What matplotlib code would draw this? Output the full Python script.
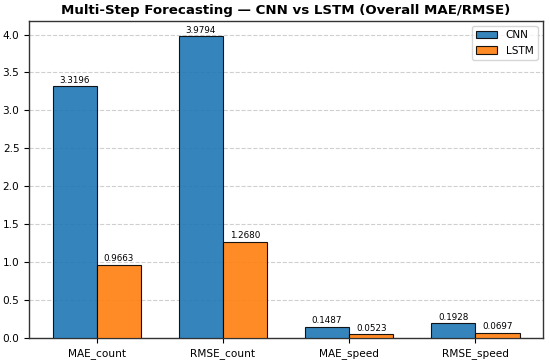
import matplotlib
matplotlib.use("Agg")
import matplotlib.pyplot as plt
import numpy as np

metrics = ["MAE_count", "RMSE_count", "MAE_speed", "RMSE_speed"]
cnn_vals = [3.3196, 3.9794, 0.1487, 0.1928]
lstm_vals = [0.9663, 1.2680, 0.0523, 0.0697]

fig, ax = plt.subplots(figsize=(5.5, 3.62), dpi=100)
x = np.arange(len(metrics))
w = 0.35
b1 = ax.bar(x - w/2, cnn_vals, w, label="CNN", color="tab:blue", alpha=0.9, edgecolor="black", linewidth=0.8, zorder=3)
b2 = ax.bar(x + w/2, lstm_vals, w, label="LSTM", color="tab:orange", alpha=0.9, edgecolor="black", linewidth=0.8, zorder=3)
for bars, vals in ((b1, cnn_vals), (b2, lstm_vals)):
    ax.bar_label(bars, labels=[f"{v:.4f}" for v in vals], fontsize=6.3, padding=1)
ax.set_xticks(x)
ax.set_xticklabels(metrics, fontsize=7.6)
ax.tick_params(axis="y", labelsize=7.6)
for s in ax.spines.values():
    s.set_linewidth(1.0)
    s.set_color("0.2")
ax.set_title("Multi-Step Forecasting — CNN vs LSTM (Overall MAE/RMSE)", fontsize=9.6, fontweight="bold", pad=5)
ax.grid(axis="y", linestyle="--", alpha=0.6, zorder=0)
ax.legend(fontsize=7.6)
fig.subplots_adjust(left=0.053, right=0.987, top=0.942, bottom=0.066)
fig.savefig("out.png", dpi=100)
